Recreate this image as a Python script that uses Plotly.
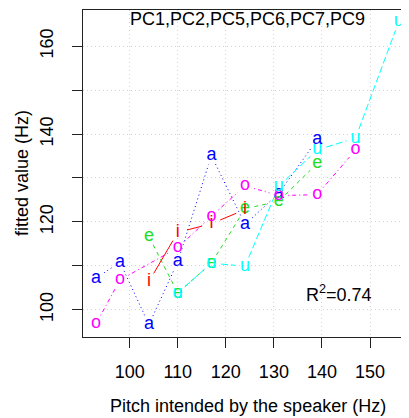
import math
import plotly.graph_objects as go

# ---- data ----
vowels = ["a", "e", "i", "o", "u"]
a_x = [93, 98, 104, 110, 117, 124, 131, 139]
a_y = [107.2, 110.8, 96.6, 110.9, 135.1, 119.4, 126.5, 138.7]
e_x = [104, 110, 117, 124, 131, 139]
e_y = [116.7, 103.8, 110.6, 123.0, 124.7, 133.3]
i_x = [104, 110, 117, 124]
i_y = [106.4, 117.6, 119.6, 122.8]
o_x = [93, 98, 110, 117, 124, 131, 139, 147]
o_y = [96.8, 106.8, 114.1, 121.3, 128.2, 126.0, 126.2, 136.4]
u_x = [110, 117, 124, 131, 139, 147, 156]
u_y = [103.8, 110.6, 109.9, 128.1, 136.4, 139.1, 165.7]

x_ticks = [100, 110, 120, 130, 140, 150]
y_ticks = [100, 110, 120, 130, 140, 150, 160]
y_ticklabels = ["100", "", "120", "", "140", "", "160"]
title_text = "PC1,PC2,PC5,PC6,PC7,PC9"
r2_text = "R<sup>2</sup>=0.74"
x_title = "Pitch intended by the speaker (Hz)"
y_title = "fitted value (Hz)"

# ---- styles ----
colors = {"a": "#0000FF", "e": "#22DD22", "i": "#FF0000", "o": "#FF00FF", "u": "#00FFFF"}
dashes = {"a": "1px,3px", "e": "4px,4px", "i": "solid", "o": "1px,3px,4px,3px", "u": "7px,3px"}
series = {"a": (a_x, a_y), "e": (e_x, e_y), "i": (i_x, i_y), "o": (o_x, o_y), "u": (u_x, u_y)}

# page body has an 8px margin, so the figure is laid out 8px in from the viewport
W, H = 401, 410
ML, MR, MT, MB = 75, 0, 2, 81
pw, ph = W - ML - MR, H - MT - MB
XR = [90.29, 90.29 + pw / 4.807]
YR = [93.78, 93.78 + ph / 4.39]
sx = pw / (XR[1] - XR[0])
sy = ph / (YR[1] - YR[0])
GAP = 9.5  # px gap around letters (R type="b")

FONT = "Liberation Sans, Arial, sans-serif"

fig = go.Figure()

for v in vowels:
    xs, ys = series[v]
    lx, ly = [], []
    for k in range(len(xs) - 1):
        dx = (xs[k + 1] - xs[k]) * sx
        dy = (ys[k + 1] - ys[k]) * sy
        d = math.hypot(dx, dy)
        if d <= 2 * GAP:
            continue
        f = GAP / d
        lx += [xs[k] + (xs[k + 1] - xs[k]) * f, xs[k + 1] - (xs[k + 1] - xs[k]) * f, None]
        ly += [ys[k] + (ys[k + 1] - ys[k]) * f, ys[k + 1] - (ys[k + 1] - ys[k]) * f, None]
    fig.add_trace(go.Scatter(x=lx, y=ly, mode="lines",
                             line=dict(color=colors[v], width=1, dash=dashes[v]),
                             hoverinfo="skip", showlegend=False))

for v in vowels:
    xs, ys = series[v]
    fig.add_trace(go.Scatter(x=xs, y=ys, mode="text", text=[v] * len(xs),
                             textposition="middle center", cliponaxis=False,
                             textfont=dict(family=FONT, size=18, color=colors[v]),
                             showlegend=False))

fig.add_annotation(x=124.6, y=166.2, xref="x", yref="y", text=title_text, showarrow=False,
                   font=dict(family=FONT, size=18, color="black"))
fig.add_annotation(x=143.5, y=103.6, xref="x", yref="y", text=r2_text, showarrow=False,
                   font=dict(family=FONT, size=18, color="black"))
fig.add_annotation(x=(240.5 - ML) / pw, y=-(398 - (H - MB)) / ph, xref="paper", yref="paper",
                   text=x_title, showarrow=False, yanchor="middle", xanchor="center",
                   font=dict(family=FONT, size=18, color="black"))
fig.add_annotation(x=(13.5 - ML) / pw, y=((H - MB) - 165.5) / ph, xref="paper", yref="paper",
                   text=y_title, showarrow=False, textangle=-90, yanchor="middle", xanchor="center",
                   font=dict(family=FONT, size=18, color="black"))

fig.update_layout(
    width=W, height=H,
    margin=dict(l=ML, r=MR, t=MT, b=MB, pad=0, autoexpand=False),
    plot_bgcolor="white", paper_bgcolor="white",
    font=dict(family=FONT, size=18, color="black"),
    xaxis=dict(range=XR, tickvals=x_ticks, ticktext=[str(t) for t in x_ticks], automargin=False,
               showgrid=True, gridcolor="#D3D3D3", griddash="1px,3px", gridwidth=1,
               zeroline=False, showline=True, linecolor="#222222", linewidth=1, mirror=True,
               ticks="outside", ticklen=10, tickcolor="#222222", tickwidth=1,
               ticklabelstandoff=8, tickfont=dict(family=FONT, size=18, color="black")),
    yaxis=dict(range=YR, tickvals=y_ticks, ticktext=y_ticklabels, tickangle=-90, automargin=False,
               showgrid=True, gridcolor="#D3D3D3", griddash="1px,3px", gridwidth=1,
               zeroline=False, showline=True, linecolor="#222222", linewidth=1, mirror=False,
               ticks="outside", ticklen=10, tickcolor="#222222", tickwidth=1,
               ticklabelstandoff=12, tickfont=dict(family=FONT, size=18, color="black")),
)

fig.write_html("out.html")
